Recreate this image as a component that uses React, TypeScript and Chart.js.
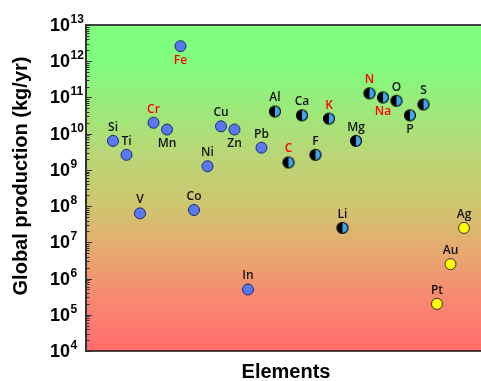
import React, { useEffect, useRef } from 'react';
import { Chart, registerables } from 'chart.js';

Chart.register(...registerables);

// ---- data ----
const elements = ['Si', 'Ti', 'V', 'Cr', 'Mn', 'Fe', 'Co', 'Ni', 'Cu', 'Zn', 'In', 'Pb', 'Al', 'C', 'Ca', 'F', 'K', 'Li', 'Mg', 'N', 'Na', 'O', 'P', 'S', 'Pt', 'Au', 'Ag'];
const production = [6.3e9, 2.6e9, 6.3e7, 2.0e10, 1.3e10, 2.6e12, 7.8e7, 1.26e9, 1.6e10, 1.3e10, 5.0e5, 4.1e9, 4.1e10, 1.6e9, 3.2e10, 2.6e9, 2.6e10, 2.5e7, 6.3e9, 1.3e11, 1.0e11, 8.1e10, 3.2e10, 6.4e10, 2.0e5, 2.5e6, 2.5e7];
const markerGroup = ['metal', 'metal', 'metal', 'metal', 'metal', 'metal', 'metal', 'metal', 'metal', 'metal', 'metal', 'metal', 'half', 'half', 'half', 'half', 'half', 'half', 'half', 'half', 'half', 'half', 'half', 'half', 'precious', 'precious', 'precious'];
const redLabelElements = ['Cr', 'Fe', 'C', 'K', 'N', 'Na'];
const yTickExponents = [4, 5, 6, 7, 8, 9, 10, 11, 12, 13];

// ---- styling ----
const labelsBelow = ['Mn', 'Fe', 'Zn', 'Na', 'P'];
const FONT_SANS = '"Liberation Sans", Arial, sans-serif';
const LABEL_FONT = '600 12px "Open Sans", sans-serif';

function makeHalfMarker(r: number): HTMLCanvasElement {
  const size = Math.ceil(r * 2 + 3);
  const c = document.createElement('canvas');
  c.width = size;
  c.height = size;
  const ctx = c.getContext('2d')!;
  const cx = size / 2, cy = size / 2;
  ctx.beginPath();
  ctx.arc(cx, cy, r, Math.PI / 2, Math.PI * 1.5);
  ctx.closePath();
  ctx.fillStyle = '#000000';
  ctx.fill();
  ctx.beginPath();
  ctx.arc(cx, cy, r, -Math.PI / 2, Math.PI / 2);
  ctx.closePath();
  ctx.fillStyle = '#3EA6EE';
  ctx.fill();
  ctx.beginPath();
  ctx.arc(cx, cy, r, 0, Math.PI * 2);
  ctx.lineWidth = 1.2;
  ctx.strokeStyle = '#000000';
  ctx.stroke();
  return c;
}

const decorPlugin = {
  id: 'decor',
  beforeDatasetsDraw(chart: any) {
    const { ctx, chartArea: a } = chart;
    const g = ctx.createLinearGradient(0, a.top, 0, a.bottom);
    g.addColorStop(0, 'rgb(126,255,126)');
    g.addColorStop(0.12, 'rgb(128,252,126)');
    g.addColorStop(0.4, 'rgb(186,214,118)');
    g.addColorStop(0.55, 'rgb(206,198,112)');
    g.addColorStop(0.7, 'rgb(232,168,112)');
    g.addColorStop(0.85, 'rgb(248,135,112)');
    g.addColorStop(1, 'rgb(255,108,108)');
    ctx.save();
    ctx.fillStyle = g;
    ctx.fillRect(a.left, a.top, a.right - a.left, a.bottom - a.top);
    ctx.restore();
  },
  afterDatasetsDraw(chart: any) {
    const { ctx, chartArea: a } = chart;
    const xs = chart.scales.x;
    const ys = chart.scales.y;
    ctx.save();

    // borders
    ctx.strokeStyle = '#444444';
    ctx.lineWidth = 2;
    ctx.beginPath();
    ctx.moveTo(a.left - 1, a.top);
    ctx.lineTo(a.right, a.top);
    ctx.stroke();
    ctx.strokeStyle = '#111111';
    ctx.lineWidth = 1.5;
    ctx.beginPath();
    ctx.moveTo(a.left - 1, a.bottom);
    ctx.lineTo(a.right, a.bottom);
    ctx.stroke();
    ctx.strokeStyle = '#333333';
    ctx.lineWidth = 2;
    ctx.beginPath();
    ctx.moveTo(a.left, a.top);
    ctx.lineTo(a.left, a.bottom);
    ctx.stroke();

    // y ticks (inward)
    ctx.lineWidth = 1;
    ctx.strokeStyle = '#333333';
    yTickExponents.forEach((e) => {
      const yp = Math.round(ys.getPixelForValue(Math.pow(10, e))) + 0.5;
      ctx.beginPath();
      ctx.moveTo(a.left - 1, yp);
      ctx.lineTo(a.left + 6, yp);
      ctx.stroke();
      if (e < 13) {
        for (let m = 2; m <= 9; m++) {
          const ym = Math.round(ys.getPixelForValue(m * Math.pow(10, e))) + 0.5;
          ctx.beginPath();
          ctx.moveTo(a.left, ym);
          ctx.lineTo(a.left + 3.5, ym);
          ctx.stroke();
        }
      }
    });

    // y tick labels 10^n
    ctx.fillStyle = '#000000';
    yTickExponents.forEach((e) => {
      const yp = ys.getPixelForValue(Math.pow(10, e));
      ctx.font = `bold 18px ${FONT_SANS}`;
      ctx.textAlign = 'right';
      ctx.textBaseline = 'middle';
      ctx.fillText('10', 70, yp + 1);
      ctx.font = `bold 12px ${FONT_SANS}`;
      ctx.textAlign = 'left';
      ctx.textBaseline = 'alphabetic';
      ctx.fillText(String(e), 70.5, yp - 2);
    });

    // axis titles
    ctx.font = `bold 20px ${FONT_SANS}`;
    ctx.textAlign = 'center';
    ctx.textBaseline = 'middle';
    ctx.fillText('Elements', 286, 372);
    ctx.save();
    ctx.translate(21, 176);
    ctx.rotate(-Math.PI / 2);
    ctx.fillText('Global production (kg/yr)', 0, 0);
    ctx.restore();

    // point labels
    ctx.font = LABEL_FONT;
    ctx.textAlign = 'center';
    ctx.textBaseline = 'middle';
    elements.forEach((el, i) => {
      const px = xs.getPixelForValue(i);
      const py = ys.getPixelForValue(production[i]);
      const below = labelsBelow.includes(el);
      ctx.fillStyle = redLabelElements.includes(el) ? '#FF0000' : '#111111';
      ctx.fillText(el, px, below ? py + 14.5 : py - 13.5);
    });

    ctx.restore();
  },
};

export default function App() {
  const canvasRef = useRef<HTMLCanvasElement | null>(null);

  useEffect(() => {
    document.body.style.margin = '0';
    const canvas = canvasRef.current;
    if (!canvas) return;
    const half = makeHalfMarker(5.5);

    const pts = (g: string) =>
      elements
        .map((_, i) => ({ x: i, y: production[i], g: markerGroup[i] }))
        .filter((p) => p.g === g)
        .map((p) => ({ x: p.x, y: p.y }));

    const chart = new Chart(canvas, {
      type: 'scatter',
      data: {
        datasets: [
          {
            label: 'metal',
            data: pts('metal'),
            pointRadius: 5.5,
            pointBackgroundColor: '#5A78F2',
            pointBorderColor: '#1C2C66',
            pointBorderWidth: 1,
          },
          {
            label: 'half',
            data: pts('half'),
            pointStyle: half as any,
            pointRadius: 5.5,
          },
          {
            label: 'precious',
            data: pts('precious'),
            pointRadius: 5.5,
            pointBackgroundColor: '#FFFF00',
            pointBorderColor: '#333333',
            pointBorderWidth: 1,
          },
        ],
      },
      options: {
        responsive: false,
        animation: false,
        layout: { autoPadding: false, padding: { top: 25, right: 0, left: 0, bottom: 0 } },
        plugins: {
          legend: { display: false },
          tooltip: { enabled: false },
        },
        scales: {
          x: {
            type: 'linear',
            min: -2,
            max: 27.26,
            grid: { display: false },
            border: { display: false },
            ticks: { display: false },
            afterFit: (s: any) => {
              s.height = 30;
            },
          },
          y: {
            type: 'logarithmic',
            min: 1e4,
            max: 1e13,
            grid: { display: false },
            border: { display: false },
            ticks: { display: false },
            afterFit: (s: any) => {
              s.width = 86;
            },
          },
        },
      },
      plugins: [decorPlugin],
    });

    return () => chart.destroy();
  }, []);

  return (
    <div style={{ width: 481, height: 381 }}>
      <canvas ref={canvasRef} width={481} height={381} style={{ display: 'block' }} />
    </div>
  );
}
